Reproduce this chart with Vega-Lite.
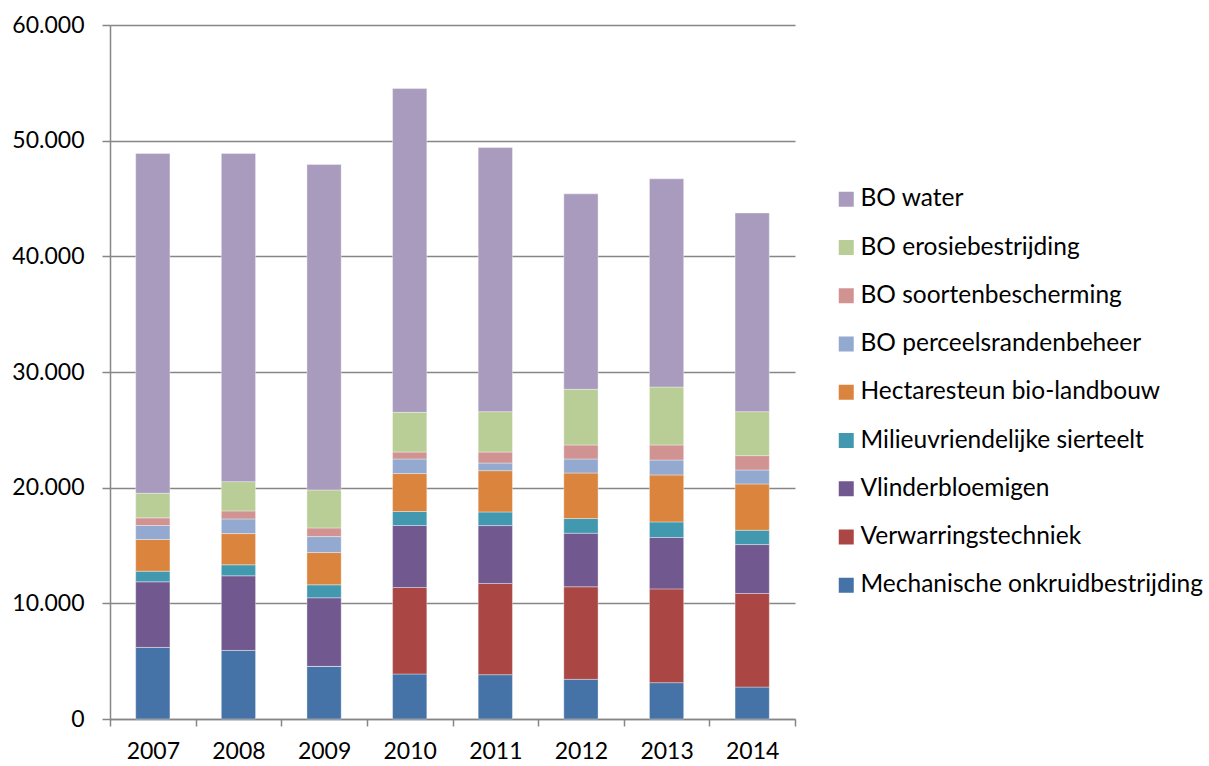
{
  "$schema": "https://vega.github.io/schema/vega-lite/v6.json",
  "width": 685,
  "height": 694,
  "autosize": {"type": "none"},
  "padding": {"left": 110, "top": 25, "right": 414, "bottom": 47},
  "background": "#ffffff",
  "config": {
    "view": {"stroke": null},
    "locale": {"number": {"decimal": ",", "thousands": ".", "grouping": [3], "currency": ["€", ""]}},
    "font": "Lato"
  },
  "data": {
    "values": [
      {"year": "2007", "series": "Mechanische onkruidbestrijding", "o": 1, "value": 6190},
      {"year": "2007", "series": "Verwarringstechniek", "o": 2, "value": 0},
      {"year": "2007", "series": "Vlinderbloemigen", "o": 3, "value": 5670},
      {"year": "2007", "series": "Milieuvriendelijke sierteelt", "o": 4, "value": 920},
      {"year": "2007", "series": "Hectaresteun bio-landbouw", "o": 5, "value": 2740},
      {"year": "2007", "series": "BO perceelsrandenbeheer", "o": 6, "value": 1210},
      {"year": "2007", "series": "BO soortenbescherming", "o": 7, "value": 660},
      {"year": "2007", "series": "BO erosiebestrijding", "o": 8, "value": 2130},
      {"year": "2007", "series": "BO water", "o": 9, "value": 29380},

      {"year": "2008", "series": "Mechanische onkruidbestrijding", "o": 1, "value": 5930},
      {"year": "2008", "series": "Verwarringstechniek", "o": 2, "value": 0},
      {"year": "2008", "series": "Vlinderbloemigen", "o": 3, "value": 6450},
      {"year": "2008", "series": "Milieuvriendelijke sierteelt", "o": 4, "value": 950},
      {"year": "2008", "series": "Hectaresteun bio-landbouw", "o": 5, "value": 2700},
      {"year": "2008", "series": "BO perceelsrandenbeheer", "o": 6, "value": 1270},
      {"year": "2008", "series": "BO soortenbescherming", "o": 7, "value": 690},
      {"year": "2008", "series": "BO erosiebestrijding", "o": 8, "value": 2530},
      {"year": "2008", "series": "BO water", "o": 9, "value": 28380},

      {"year": "2009", "series": "Mechanische onkruidbestrijding", "o": 1, "value": 4550},
      {"year": "2009", "series": "Verwarringstechniek", "o": 2, "value": 0},
      {"year": "2009", "series": "Vlinderbloemigen", "o": 3, "value": 5930},
      {"year": "2009", "series": "Milieuvriendelijke sierteelt", "o": 4, "value": 1120},
      {"year": "2009", "series": "Hectaresteun bio-landbouw", "o": 5, "value": 2790},
      {"year": "2009", "series": "BO perceelsrandenbeheer", "o": 6, "value": 1380},
      {"year": "2009", "series": "BO soortenbescherming", "o": 7, "value": 750},
      {"year": "2009", "series": "BO erosiebestrijding", "o": 8, "value": 3280},
      {"year": "2009", "series": "BO water", "o": 9, "value": 28150},

      {"year": "2010", "series": "Mechanische onkruidbestrijding", "o": 1, "value": 3890},
      {"year": "2010", "series": "Verwarringstechniek", "o": 2, "value": 7480},
      {"year": "2010", "series": "Vlinderbloemigen", "o": 3, "value": 5360},
      {"year": "2010", "series": "Milieuvriendelijke sierteelt", "o": 4, "value": 1210},
      {"year": "2010", "series": "Hectaresteun bio-landbouw", "o": 5, "value": 3280},
      {"year": "2010", "series": "BO perceelsrandenbeheer", "o": 6, "value": 1260},
      {"year": "2010", "series": "BO soortenbescherming", "o": 7, "value": 600},
      {"year": "2010", "series": "BO erosiebestrijding", "o": 8, "value": 3430},
      {"year": "2010", "series": "BO water", "o": 9, "value": 27990},

      {"year": "2011", "series": "Mechanische onkruidbestrijding", "o": 1, "value": 3830},
      {"year": "2011", "series": "Verwarringstechniek", "o": 2, "value": 7890},
      {"year": "2011", "series": "Vlinderbloemigen", "o": 3, "value": 5000},
      {"year": "2011", "series": "Milieuvriendelijke sierteelt", "o": 4, "value": 1180},
      {"year": "2011", "series": "Hectaresteun bio-landbouw", "o": 5, "value": 3570},
      {"year": "2011", "series": "BO perceelsrandenbeheer", "o": 6, "value": 660},
      {"year": "2011", "series": "BO soortenbescherming", "o": 7, "value": 950},
      {"year": "2011", "series": "BO erosiebestrijding", "o": 8, "value": 3490},
      {"year": "2011", "series": "BO water", "o": 9, "value": 22830},

      {"year": "2012", "series": "Mechanische onkruidbestrijding", "o": 1, "value": 3430},
      {"year": "2012", "series": "Verwarringstechniek", "o": 2, "value": 8000},
      {"year": "2012", "series": "Vlinderbloemigen", "o": 3, "value": 4630},
      {"year": "2012", "series": "Milieuvriendelijke sierteelt", "o": 4, "value": 1270},
      {"year": "2012", "series": "Hectaresteun bio-landbouw", "o": 5, "value": 3940},
      {"year": "2012", "series": "BO perceelsrandenbeheer", "o": 6, "value": 1210},
      {"year": "2012", "series": "BO soortenbescherming", "o": 7, "value": 1210},
      {"year": "2012", "series": "BO erosiebestrijding", "o": 8, "value": 4810},
      {"year": "2012", "series": "BO water", "o": 9, "value": 16900},

      {"year": "2013", "series": "Mechanische onkruidbestrijding", "o": 1, "value": 3140},
      {"year": "2013", "series": "Verwarringstechniek", "o": 2, "value": 8110},
      {"year": "2013", "series": "Vlinderbloemigen", "o": 3, "value": 4440},
      {"year": "2013", "series": "Milieuvriendelijke sierteelt", "o": 4, "value": 1350},
      {"year": "2013", "series": "Hectaresteun bio-landbouw", "o": 5, "value": 4060},
      {"year": "2013", "series": "BO perceelsrandenbeheer", "o": 6, "value": 1290},
      {"year": "2013", "series": "BO soortenbescherming", "o": 7, "value": 1300},
      {"year": "2013", "series": "BO erosiebestrijding", "o": 8, "value": 5010},
      {"year": "2013", "series": "BO water", "o": 9, "value": 18000},

      {"year": "2014", "series": "Mechanische onkruidbestrijding", "o": 1, "value": 2760},
      {"year": "2014", "series": "Verwarringstechniek", "o": 2, "value": 8090},
      {"year": "2014", "series": "Vlinderbloemigen", "o": 3, "value": 4230},
      {"year": "2014", "series": "Milieuvriendelijke sierteelt", "o": 4, "value": 1240},
      {"year": "2014", "series": "Hectaresteun bio-landbouw", "o": 5, "value": 4000},
      {"year": "2014", "series": "BO perceelsrandenbeheer", "o": 6, "value": 1210},
      {"year": "2014", "series": "BO soortenbescherming", "o": 7, "value": 1240},
      {"year": "2014", "series": "BO erosiebestrijding", "o": 8, "value": 3800},
      {"year": "2014", "series": "BO water", "o": 9, "value": 17180}
    ]
  },
  "mark": {"type": "bar", "width": {"band": 0.4}, "stroke": "#ffffff", "strokeOpacity": 0.45, "strokeWidth": 0.8},
  "encoding": {
    "x": {
      "field": "year",
      "type": "ordinal",
      "scale": {"paddingInner": 0, "paddingOuter": 0},
      "axis": {
        "title": null,
        "labelAngle": 0,
        "labelFontSize": 23,
        "labelColor": "#000000",
        "labelPadding": 14,
        "domainColor": "#868686",
        "domainWidth": 1.5,
        "tickColor": "#868686",
        "tickWidth": 1.5,
        "tickSize": 7,
        "tickBand": "extent",
        "tickExtra": true,
        "grid": false
      }
    },
    "y": {
      "field": "value",
      "type": "quantitative",
      "stack": "zero",
      "scale": {"domain": [0, 60000], "nice": false},
      "axis": {
        "title": null,
        "values": [0, 10000, 20000, 30000, 40000, 50000, 60000],
        "format": ",.0f",
        "labelFontSize": 23,
        "labelColor": "#000000",
        "labelPadding": 18,
        "domainColor": "#868686",
        "domainWidth": 1.5,
        "tickColor": "#868686",
        "tickWidth": 1.5,
        "tickSize": 8,
        "grid": true,
        "gridColor": "#868686",
        "gridWidth": 1.5
      }
    },
    "order": {"field": "o", "type": "quantitative", "sort": "ascending"},
    "color": {
      "field": "series",
      "type": "nominal",
      "scale": {
        "domain": [
          "BO water",
          "BO erosiebestrijding",
          "BO soortenbescherming",
          "BO perceelsrandenbeheer",
          "Hectaresteun bio-landbouw",
          "Milieuvriendelijke sierteelt",
          "Vlinderbloemigen",
          "Verwarringstechniek",
          "Mechanische onkruidbestrijding"
        ],
        "range": ["#A99BBD", "#B9CD96", "#D19392", "#93A9CF", "#DB843D", "#4198AF", "#71588F", "#AA4643", "#4572A7"]
      },
      "legend": {
        "title": null,
        "orient": "none",
        "legendX": 724,
        "legendY": 162,
        "symbolType": "square",
        "symbolSize": 225,
        "symbolStrokeWidth": 0,
        "labelFontSize": 24.5,
        "labelColor": "#000000",
        "labelOffset": 2,
        "labelLimit": 400,
        "rowPadding": 23.25,
        "padding": 0
      }
    }
  }
}
